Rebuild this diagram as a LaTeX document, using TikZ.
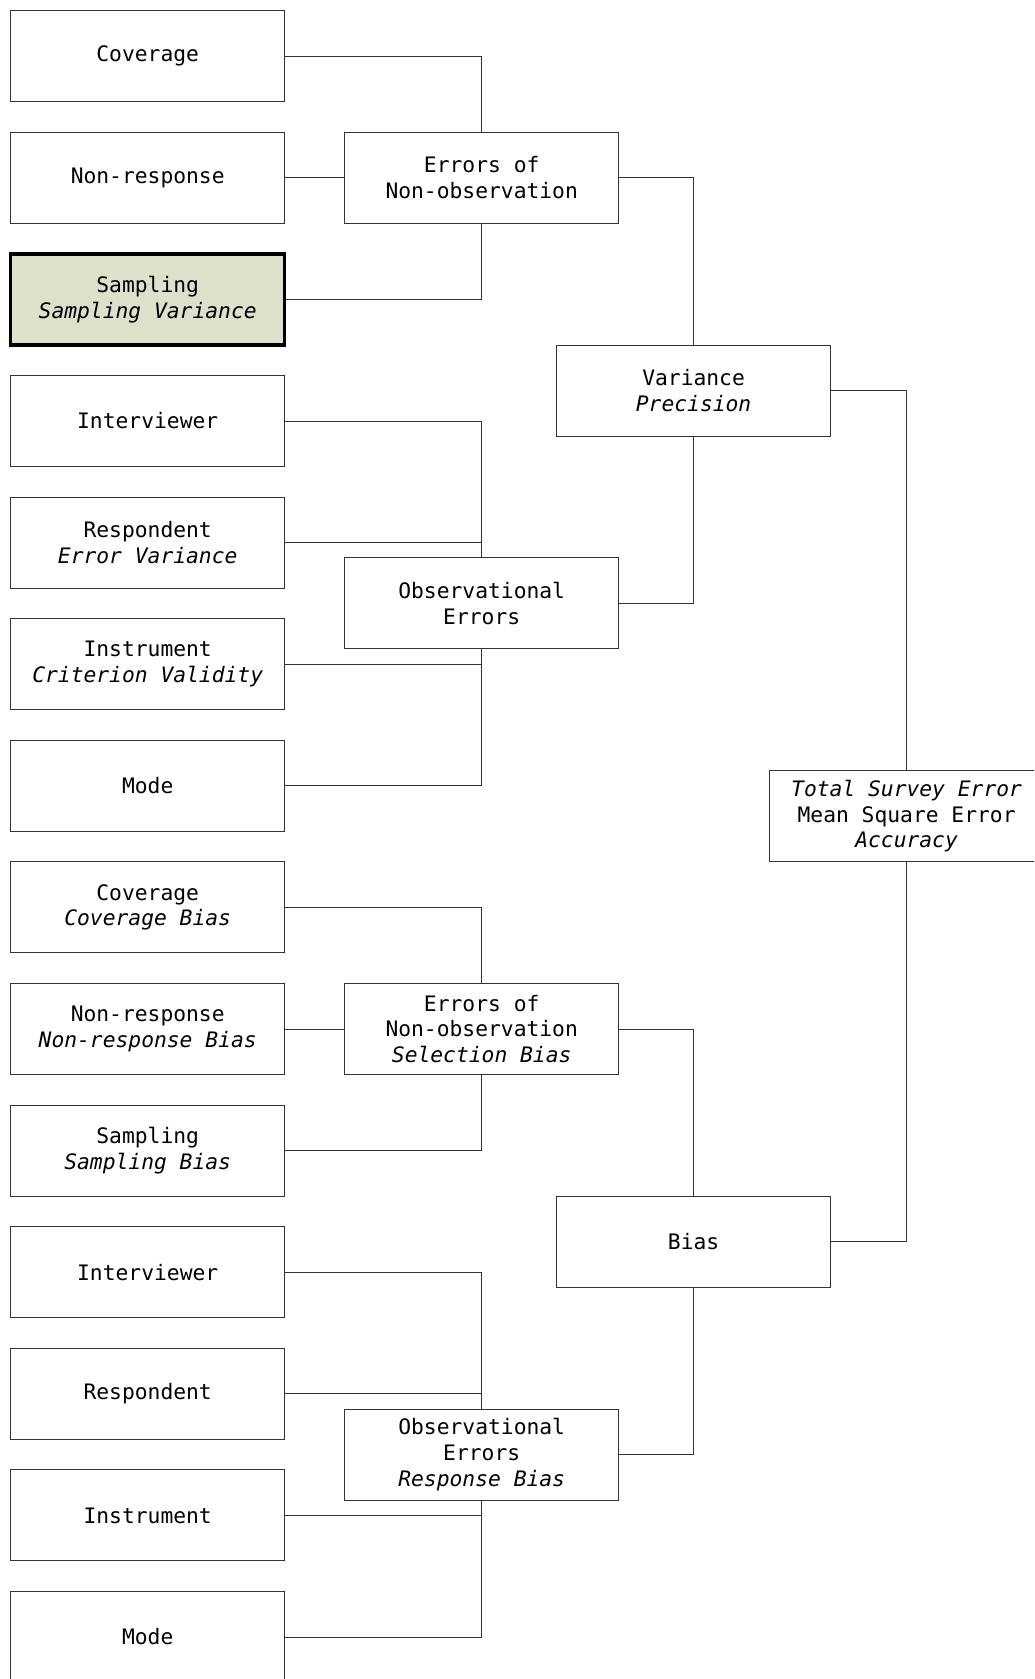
\documentclass[tikz,border=0pt]{standalone}
\usepackage{fontspec}
\newfontfamily\monof{DejaVu Sans Mono}
\definecolor{sampfill}{RGB}{221,225,204}
\begin{document}
\begin{tikzpicture}[x=1pt,y=-1pt,
  box/.style={draw=black!80, line width=1pt, fill=white, minimum width=274pt, minimum height=91pt, inner sep=0pt, align=center, font=\monof\fontsize{21.3}{25.6}\selectfont},
  hlbox/.style={box, draw=black, line width=3.4pt, fill=sampfill},
  conn/.style={draw=black!80, line width=1pt}]
\path[use as bounding box] (0,0) rectangle (1034,1679);
\fill[white] (0,0) rectangle (1034,1679);
\clip (0,0) rectangle (1034,1679);
% left column
\node[box] (cov1) at (147.7,56.2) {Coverage};
\node[box] (non1) at (147.7,177.8) {Non-response};
\node[hlbox] (sam1) at (147.7,299.4) {Sampling\\\itshape Sampling Variance};
\node[box] (int1) at (147.7,421.0) {Interviewer};
\node[box] (res1) at (147.7,542.6) {Respondent\\\itshape Error Variance};
\node[box] (ins1) at (147.7,664.2) {Instrument\\\itshape Criterion Validity};
\node[box] (mod1) at (147.7,785.8) {Mode};
\node[box] (cov2) at (147.7,907.4) {Coverage\\\itshape Coverage Bias};
\node[box] (non2) at (147.7,1029.0) {Non-response\\\itshape Non-response Bias};
\node[box] (sam2) at (147.7,1150.6) {Sampling\\\itshape Sampling Bias};
\node[box] (int2) at (147.7,1272.2) {Interviewer};
\node[box] (res2) at (147.7,1393.8) {Respondent};
\node[box] (ins2) at (147.7,1515.4) {Instrument};
\node[box] (mod2) at (147.7,1637.0) {Mode};
% middle column
\node[box] (err1) at (481.7,177.8) {Errors of\\Non-observation};
\node[box] (obs1) at (481.7,603.4) {Observational\\Errors};
\node[box] (err2) at (481.7,1029.0) {Errors of\\Non-observation\\\itshape Selection Bias};
\node[box] (obs2) at (481.7,1454.6) {Observational\\Errors\\\itshape Response Bias};
% third column
\node[box] (var) at (693.6,390.6) {Variance\\\itshape Precision};
\node[box] (bias) at (693.6,1241.8) {Bias};
% total
\node[box] (tot) at (906.6,816.2) {\itshape Total Survey Error\\Mean Square Error\\\itshape Accuracy};
% connectors, top half
\draw[conn] (cov1.east) -| (err1.north);
\draw[conn] (non1.east) -- (err1.west);
\draw[conn] (sam1.east) -| (err1.south);
\draw[conn] (int1.east) -| (obs1.north);
\draw[conn] (res1.east) -- (res1.east -| obs1.north);
\draw[conn] (ins1.east) -| (obs1.south);
\draw[conn] (mod1.east) -| (obs1.south);
\draw[conn] (err1.east) -| (var.north);
\draw[conn] (obs1.east) -| (var.south);
% connectors, bottom half
\draw[conn] (cov2.east) -| (err2.north);
\draw[conn] (non2.east) -- (err2.west);
\draw[conn] (sam2.east) -| (err2.south);
\draw[conn] (int2.east) -| (obs2.north);
\draw[conn] (res2.east) -- (res2.east -| obs2.north);
\draw[conn] (ins2.east) -| (obs2.south);
\draw[conn] (mod2.east) -| (obs2.south);
\draw[conn] (err2.east) -| (bias.north);
\draw[conn] (obs2.east) -| (bias.south);
% to total
\draw[conn] (var.east) -| (tot.north);
\draw[conn] (bias.east) -| (tot.south);
\end{tikzpicture}
\end{document}
